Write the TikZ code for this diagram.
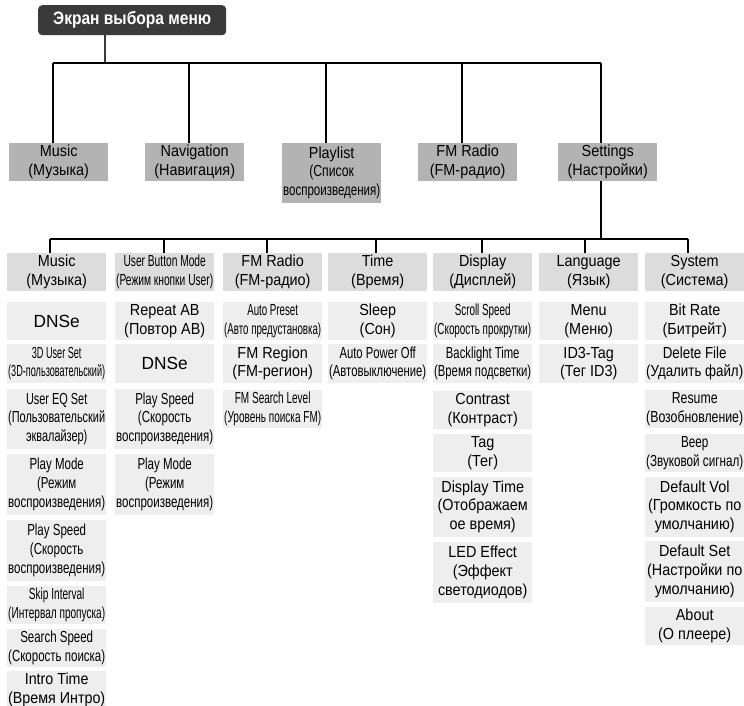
\documentclass[tikz,border=0pt]{standalone}
\usepackage{fontspec}
\setmainfont[FakeStretch=0.9]{Liberation Sans}
\usepackage{graphicx}
\usetikzlibrary{calc}
\definecolor{rootgray}{HTML}{3A3A3A}
\definecolor{onegray}{HTML}{B3B3B3}
\definecolor{twogray}{HTML}{DCDCDC}
\definecolor{itemgray}{HTML}{EEEEEE}
\newsavebox\fitbox
\newcommand\fitt[1]{\sbox\fitbox{\begin{tabular}{@{}c@{}}#1\end{tabular}}%
  \ifdim\wd\fitbox>97pt\resizebox{97pt}{\height}{\usebox\fitbox}\else\usebox\fitbox\fi}
\newcommand\basefont{\fontsize{16}{18.8}\selectfont}
\newcommand\bigdnse{\scalebox{1.2}[1.1]{DNSe}}
\tikzset{
  boxbase/.style={inner sep=0pt, anchor=north west, minimum width=99pt, font=\basefont},
  lvone/.style={boxbase, fill=onegray, minimum height=#1},
  lvtwo/.style={boxbase, fill=twogray, minimum height=38pt},
  itembox/.style={boxbase, fill=itemgray, minimum height=#1},
  conn/.style={draw=black, line width=1.2pt},
  rootconn/.style={draw=rootgray, line width=1.6pt}
}
\begin{document}
\begin{tikzpicture}[x=1pt,y=-1pt]
\path[use as bounding box, fill=white] (0,0) rectangle (744,706);
% root
\node[fill=rootgray, rounded corners=4pt, anchor=north west, minimum width=188pt, minimum height=30pt, inner sep=0pt, text=white] (root) at (38,5)
  {\resizebox{158pt}{\height}{\fontsize{18}{20}\selectfont\bfseries Экран выбора меню}};
% level 1
\node[lvone=38pt] (mus) at (9,143) {\fitt{Music\\(Музыка)}};
\node[lvone=38pt] (nav) at (145,143) {\fitt{Navigation\\(Навигация)}};
\node[lvone=60pt] (pls) at (282,143) {\fitt{Playlist\\\scalebox{0.85}[1]{(Список}\\\scalebox{0.8}[1]{воспроизведения)}}};
\node[lvone=38pt] (fmr) at (418,143) {\fitt{FM Radio\\(FM-радио)}};
\node[lvone=38pt] (set) at (558,143) {\fitt{Settings\\(Настройки)}};
% level 2
\node[lvtwo] (hmus) at (7,253) {\fitt{Music\\(Музыка)}};
\node[lvtwo] (hubm) at (115,253) {\fitt{User Button Mode\\(Режим кнопки User)}};
\node[lvtwo] (hfm) at (223,253) {\fitt{FM Radio\\(FM-радио)}};
\node[lvtwo] (htim) at (328,253) {\fitt{Time\\(Время)}};
\node[lvtwo] (hdis) at (433,253) {\fitt{Display\\(Дисплей)}};
\node[lvtwo] (hlan) at (539,253) {\fitt{Language\\(Язык)}};
\node[lvtwo] (hsys) at (645,253) {\fitt{System\\(Система)}};
% column 1
\node[itembox=37.5pt] (a1) at (7,302) {\bigdnse};
\node[itembox=39pt] (a2) at (7,344) {\fitt{3D User Set\\(3D-пользовательский)}};
\node[itembox=60pt] (a3) at (7,389) {\fitt{User EQ Set\\(Пользовательский\\эквалайзер)}};
\node[itembox=61pt] (a4) at (7,454) {\fitt{Play Mode\\(Режим\\воспроизведения)}};
\node[itembox=61pt] (a5) at (7,520) {\fitt{Play Speed\\(Скорость\\воспроизведения)}};
\node[itembox=38pt] (a6) at (7,586) {\fitt{Skip Interval\\(Интервал пропуска)}};
\node[itembox=38pt] (a7) at (7,629) {\fitt{Search Speed\\(Скорость поиска)}};
\node[itembox=37pt] (a8) at (7,671) {\fitt{Intro Time\\(Время Интро)}};
% column 2
\node[itembox=37.5pt] (b1) at (115,302) {\fitt{Repeat AB\\(Повтор AB)}};
\node[itembox=39pt] (b2) at (115,344) {\bigdnse};
\node[itembox=60pt] (b3) at (115,389) {\fitt{Play Speed\\(Скорость\\воспроизведения)}};
\node[itembox=61pt] (b4) at (115,454) {\fitt{Play Mode\\(Режим\\воспроизведения)}};
% column 3
\node[itembox=37.5pt] (c1) at (223,302) {\fitt{Auto Preset\\(Авто предустановка)}};
\node[itembox=39pt] (c2) at (223,344) {\fitt{FM Region\\(FM-регион)}};
\node[itembox=38pt] (c3) at (223,390) {\fitt{FM Search Level\\(Уровень поиска FM)}};
% column 4
\node[itembox=37.5pt] (d1) at (328,302) {\fitt{Sleep\\(Сон)}};
\node[itembox=39pt] (d2) at (328,344) {\fitt{Auto Power Off\\(Автовыключение)}};
% column 5
\node[itembox=37.5pt] (e1) at (433,302) {\fitt{Scroll Speed\\(Скорость прокрутки)}};
\node[itembox=39pt] (e2) at (433,344) {\fitt{Backlight Time\\(Время подсветки)}};
\node[itembox=38pt] (e3) at (433,391) {\fitt{Contrast\\(Контраст)}};
\node[itembox=38pt] (e4) at (433,434) {\fitt{Tag\\(Тег)}};
\node[itembox=60pt] (e5) at (433,477) {\fitt{Display Time\\(Отображаем\\ое время)}};
\node[itembox=61pt] (e6) at (433,542) {\fitt{LED Effect\\(Эффект\\светодиодов)}};
% column 6
\node[itembox=37.5pt] (f1) at (539,302) {\fitt{Menu\\(Меню)}};
\node[itembox=39pt] (f2) at (539,344) {\fitt{ID3-Tag\\(Тег ID3)}};
% column 7
\node[itembox=37.5pt] (g1) at (645,302) {\fitt{Bit Rate\\(Битрейт)}};
\node[itembox=39pt] (g2) at (645,344) {\fitt{Delete File\\(Удалить файл)}};
\node[itembox=38pt] (g3) at (645,390) {\fitt{Resume\\(Возобновление)}};
\node[itembox=38pt] (g4) at (645,434) {\fitt{Beep\\(Звуковой сигнал)}};
\node[itembox=60pt] (g5) at (645,477) {\fitt{Default Vol\\(Громкость по\\умолчанию)}};
\node[itembox=61pt] (g6) at (645,541) {\fitt{Default Set\\(Настройки по\\умолчанию)}};
\node[itembox=38pt] (g7) at (645,607) {\fitt{About\\(О плеере)}};
% connectors: root to level 1
\coordinate (r0) at (105,63);
\coordinate (p1) at (53,63);
\coordinate (p2) at (189,63);
\coordinate (p3) at (326,63);
\coordinate (p4) at (462,63);
\coordinate (p5) at (601,63);
\draw[rootconn] (root.south -| r0) -- (r0);
\draw[conn] (p1) -- (p5);
\draw[conn] (p1) -- (p1 |- mus.north);
\draw[conn] (p2) -- (p2 |- nav.north);
\draw[conn] (p3) -- (p3 |- pls.north);
\draw[conn] (p4) -- (p4 |- fmr.north);
\draw[conn] (p5) -- (p5 |- set.north);
% settings to level 2
\coordinate (s0) at (601,239);
\coordinate (q1) at (50,239);
\coordinate (q2) at (164,239);
\coordinate (q3) at (267,239);
\coordinate (q4) at (376,239);
\coordinate (q5) at (482,239);
\coordinate (q6) at (585,239);
\coordinate (q7) at (688,239);
\draw[conn] (set.south -| s0) -- (s0);
\draw[conn] (q1) -- (q7);
\draw[conn] (q1) -- (q1 |- hmus.north);
\draw[conn] (q2) -- (q2 |- hubm.north);
\draw[conn] (q3) -- (q3 |- hfm.north);
\draw[conn] (q4) -- (q4 |- htim.north);
\draw[conn] (q5) -- (q5 |- hdis.north);
\draw[conn] (q6) -- (q6 |- hlan.north);
\draw[conn] (q7) -- (q7 |- hsys.north);
\end{tikzpicture}
\end{document}
